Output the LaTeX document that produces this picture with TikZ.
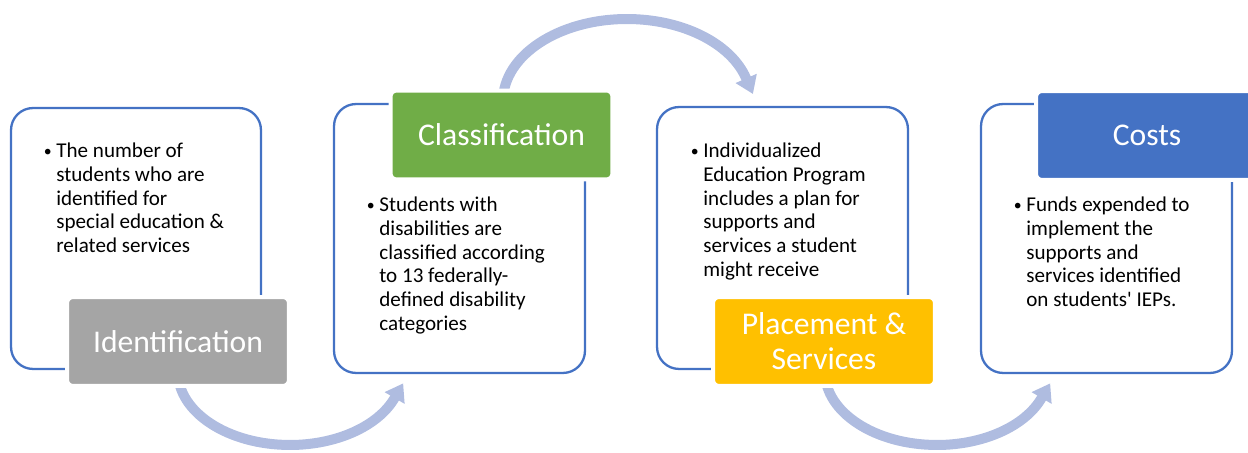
\documentclass[tikz,border=0pt]{standalone}
\usepackage{fontspec}
\setmainfont{Carlito}[Ligatures=TeXOff]
\usetikzlibrary{arrows.meta}

\definecolor{frameblue}{HTML}{4472C4}
\definecolor{idgray}{HTML}{A5A5A5}
\definecolor{clgreen}{HTML}{70AD47}
\definecolor{plgold}{HTML}{FFC000}
\definecolor{coblue}{HTML}{4472C4}
\definecolor{arrowtint}{RGB}{175,188,224}

\tikzset{
  panel/.style={draw=frameblue, line width=0.046cm, fill=white,
    rounded corners=0.44cm, inner sep=0, minimum width=5.02cm},
  tag/.style={draw=white, line width=0.08cm, rounded corners=0.12cm,
    minimum width=4.44cm, minimum height=1.78cm, inner sep=0, text=white,
    font=\fontsize{18pt}{19.8pt}\selectfont, align=center},
  body/.style={anchor=base west, inner sep=0, text=black},
  cycle arrow/.style={draw=arrowtint, line width=0.2cm,
    -{Triangle[length=0.34cm,width=0.44cm]}},
}
% bulleted paragraph, first baseline on the node's base
\newcommand\bulletpara[1]{\parbox[t]{4.6cm}{\fontsize{12pt}{13.45pt}\selectfont
  \raggedright\leavevmode\llap{\raisebox{0.9pt}{\fontsize{9pt}{9pt}\selectfont\textbullet}\hspace{2.6pt}}#1}}

\begin{document}
\begin{tikzpicture}[x=0.02cm, y=0.02cm]
\useasboundingbox (0,0) rectangle (1248,453);
\clip (0,0) rectangle (1248,453);

% curved arrows between the stages (drawn first, the tags cover their tails)
\coordinate (a1s) at (178,81);
\coordinate (a2s) at (503,352);
\coordinate (a3s) at (825,81);
\draw[cycle arrow] (a1s) arc[start angle=180, end angle=339.1,
  x radius=2.24cm, y radius=1.46cm] -- ++(8.6,14.7);
\draw[cycle arrow] (a2s) arc[start angle=180, end angle=16,
  x radius=2.48cm, y radius=1.64cm] -- ++(6.8,-15.6);
\draw[cycle arrow] (a3s) arc[start angle=180, end angle=339.1,
  x radius=2.24cm, y radius=1.46cm] -- ++(8.6,14.7);

% white panels
\node[panel, minimum width=5cm, minimum height=5.22cm] (b1) at (136,214.5) {};
\node[panel, minimum height=5.38cm] (b2) at (459.5,214.5) {};
\node[panel, minimum height=5.24cm] (b3) at (782.5,215) {};
\node[panel, minimum height=5.38cm] (b4) at (1106.5,214.5) {};

% panel texts
\node[body] (t1) at (56,295) {\bulletpara{The number of\\students who are\\identified for\\special education \&\\related services}};
\node[body] (t2) at (379,241) {\bulletpara{Students with\\disabilities are\\classified according\\to 13 federally-\\defined disability\\categories}};
\node[body] (t3) at (703,295) {\bulletpara{Individualized\\Education Program\\includes a plan for\\supports and\\services a student\\might receive}};
\node[body] (t4) at (1026,241) {\bulletpara{Funds expended to\\implement the\\supports and\\services identified\\on students' IEPs.}};

% coloured stage tags
\node[tag, fill=idgray] (l1) at (178,111.5) {Identification};
\node[tag, fill=clgreen] (l2) at (501.5,318) {Classification};
\node[tag, fill=plgold] (l3) at (824,111.5) {Placement \&\\Services};
\node[tag, fill=coblue] (l4) at (1147,317.5) {Costs};
\end{tikzpicture}
\end{document}
